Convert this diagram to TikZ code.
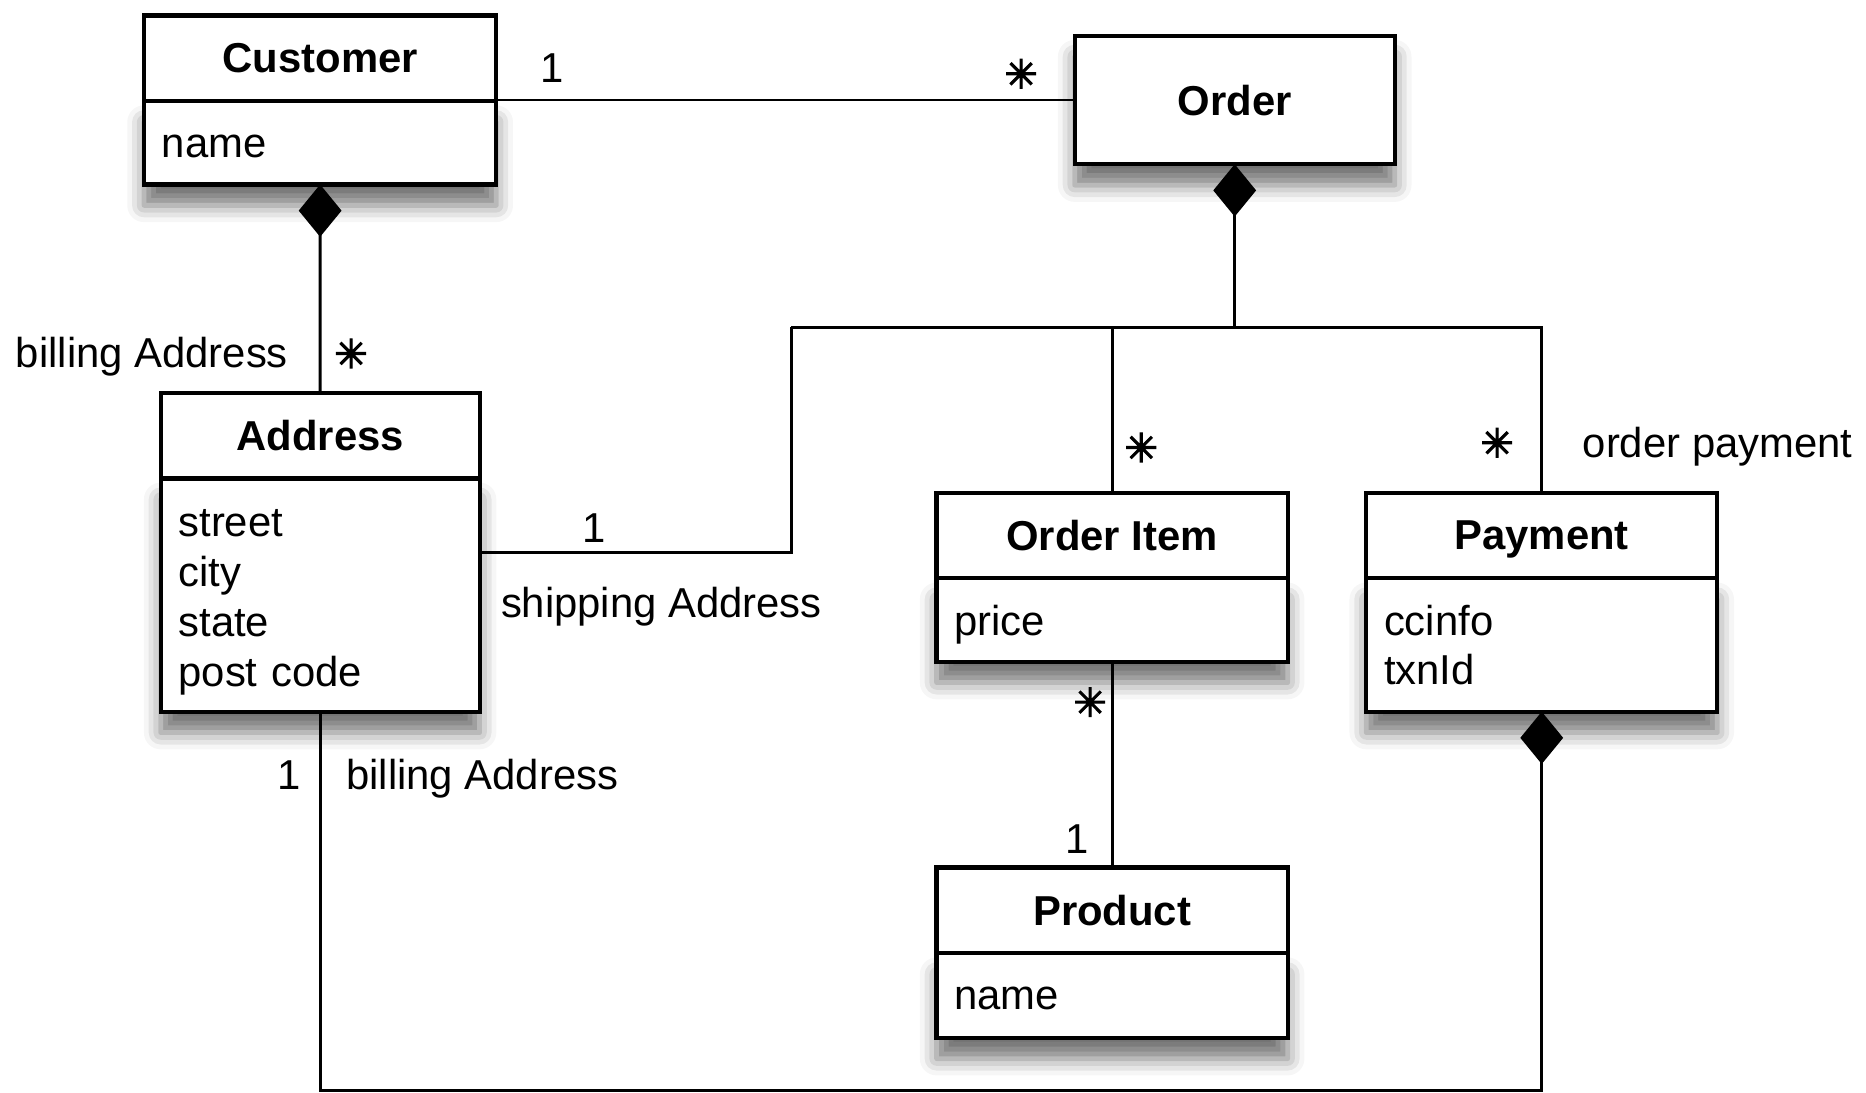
\documentclass[tikz,border=0pt]{standalone}
\usepackage{fontspec}
\setmainfont{Liberation Sans}
\newfontfamily\starfont[FakeBold=3]{DejaVu Sans}
\usetikzlibrary{positioning,arrows.meta,shadows.blur}

\begin{document}
\begin{tikzpicture}[every node/.style={inner sep=0pt,outer sep=0pt,font=\fontsize{10}{11.9}\selectfont},
	classname/.style={draw,fill=white,line width=1pt,minimum height=0.72cm,text depth=0pt,
		font=\fontsize{10}{11.9}\selectfont\bfseries},
	lifted/.style={blur shadow={shadow xshift=0pt,shadow yshift=-5pt,
		shadow blur radius=4pt,shadow opacity=55}},
	classattr/.style={draw,fill=white,line width=1pt,inner xsep=0.15cm,align=left,lifted},
	conn/.style={line width=0.7pt},
	comp/.style={{Diamond[length=4.4mm,width=3.6mm]}-},
	mult/.style={font=\fontsize{9.5}{9.5}\starfont}]
\useasboundingbox (0,0) rectangle (15.68,-9.18);
% classes
\node[classname,minimum width=2.96cm,anchor=north west] (custName) at (1.21,-0.13) {Customer};
\node[classattr,text width=2.66cm,text height=6.9pt,minimum height=0.70cm,below=0pt of custName] (custAttr) {name};
\node[classname,lifted,minimum width=2.69cm,minimum height=1.08cm,anchor=north west] (order) at (9.03,-0.30) {Order};
\node[classname,minimum width=2.68cm,anchor=north west] (addrName) at (1.35,-3.30) {Address};
\node[classattr,text width=2.38cm,text height=10pt,minimum height=1.96cm,below=0pt of addrName] (addrAttr) {street\\city\\state\\post code};
\node[classname,minimum width=2.95cm,anchor=north west] (itemName) at (7.87,-4.14) {Order Item};
\node[classattr,text width=2.65cm,text depth=0pt,minimum height=0.70cm,below=0pt of itemName] (itemAttr) {price};
\node[classname,minimum width=2.95cm,anchor=north west] (payName) at (11.48,-4.14) {Payment};
\node[classattr,text width=2.65cm,minimum height=1.12cm,below=0pt of payName] (payAttr) {ccinfo\\txnId};
\node[classname,minimum width=2.95cm,anchor=north west] (prodName) at (7.87,-7.29) {Product};
\node[classattr,text width=2.65cm,text height=6.9pt,minimum height=0.71cm,below=0pt of prodName] (prodAttr) {name};
% associations
\coordinate (ordJoin) at (order.south |- 0,-2.75);
\coordinate (shipBend) at (6.65,-4.64);
\coordinate (billBend) at (addrAttr.south |- 0,-9.16);
\draw[conn] (order.west) -- (order.west -| custName.east);
\draw[conn,comp] (custAttr.south) -- (addrName.north);
\draw[conn,comp] (order.south) -- (ordJoin);
\draw[conn] (shipBend |- ordJoin) -- (ordJoin -| payName.north) -- (payName.north);
\draw[conn] (ordJoin -| itemName.north) -- (itemName.north);
\draw[conn] (shipBend |- ordJoin) -- (shipBend) -- (shipBend -| addrAttr.east);
\draw[conn] (itemAttr.south) -- (prodName.north);
\draw[conn,comp] (payAttr.south) -- (payAttr.south |- billBend) -- (billBend) -- (addrAttr.south);
% role names and multiplicities
\node (custOne) at (4.64,-0.57) {1};
\node[mult] (orderMany) at (8.58,-0.62) {✳};
\node[anchor=east] (billRoleTop) at (2.42,-3.00) {billing Address};
\node[mult] (addrMany) at (2.95,-2.97) {✳};
\node (shipOne) at (4.99,-4.44) {1};
\node[anchor=west] (shipRole) at (4.21,-5.10) {shipping Address};
\node[mult] (itemMany) at (9.59,-3.76) {✳};
\node[mult] (payMany) at (12.58,-3.72) {✳};
\node[anchor=west] (payRole) at (13.30,-3.75) {order payment};
\node[mult] (prodItemMany) at (9.16,-5.90) {✳};
\node (prodOne) at (9.05,-7.05) {1};
\node (billOne) at (2.43,-6.51) {1};
\node[anchor=west] (billRole) at (2.91,-6.54) {billing Address};
\end{tikzpicture}
\end{document}
